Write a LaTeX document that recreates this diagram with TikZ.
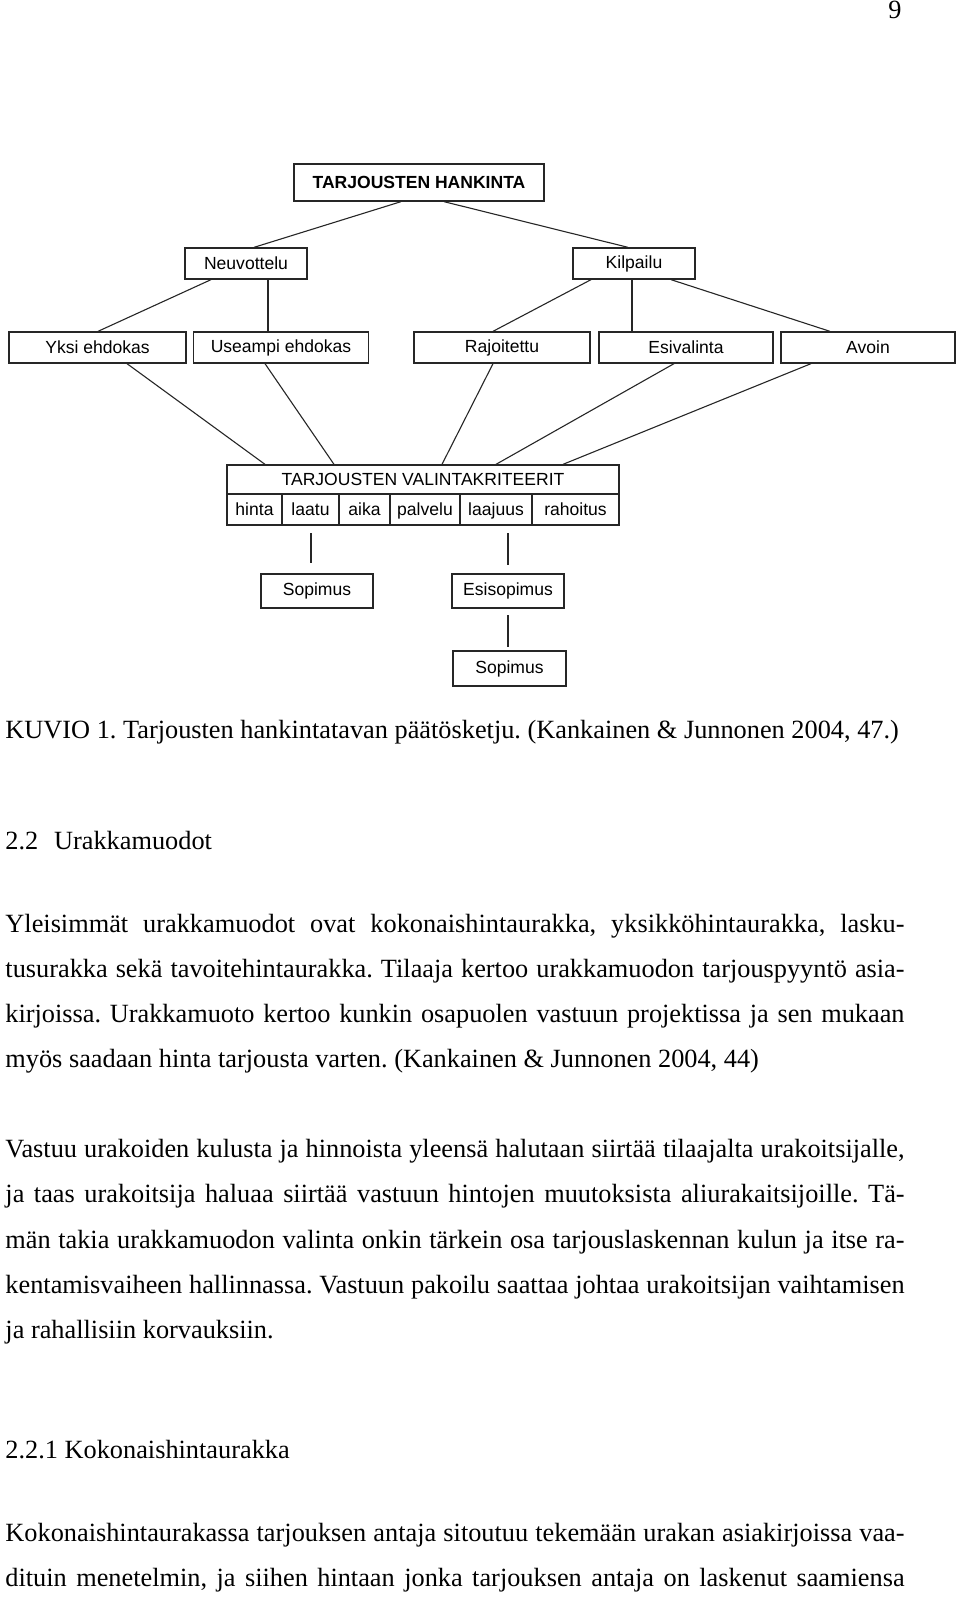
\documentclass[tikz,border=0pt]{standalone}
\usepackage{fontspec}
\setmainfont{Liberation Serif}
\newfontfamily\diafont{Liberation Sans}
\usepackage{tikz}
\usetikzlibrary{positioning}
\newcommand{\pxu}{0.456pt}

\begin{document}
\begin{tikzpicture}[x=0.456pt,y=-0.456pt,
  box/.style={draw=black!85,line width=0.6pt,rectangle,inner sep=0pt,
    font=\diafont\fontsize{8pt}{9pt}\selectfont},
  cell/.style={box,minimum height=31*\pxu,text height=1.6ex,text depth=0.4ex},
  conn/.style={draw=black!85,line width=0.5pt},
  body/.style={anchor=base west,inner sep=0pt,font=\fontsize{12pt}{14pt}\selectfont\frenchspacing}]
\fill[white] (0,0) rectangle (960,1597);
\useasboundingbox (0,0) rectangle (960,1597);

% puu
\node[box,minimum width=250*\pxu,minimum height=37*\pxu,font=\diafont\bfseries\fontsize{8pt}{9pt}\selectfont] (top) at (419,182.5) {TARJOUSTEN HANKINTA};
\node[box,minimum width=122*\pxu,minimum height=31*\pxu] (neuv) at (246,263.5) {Neuvottelu};
\node[box,minimum width=122*\pxu,minimum height=31*\pxu] (kilp) at (634,263.5) {Kilpailu};
\node[box,minimum width=177*\pxu,minimum height=31*\pxu] (yksi) at (97.5,347.5) {Yksi ehdokas};
\node[box,minimum width=175*\pxu,minimum height=31*\pxu] (usea) at (281,347.5) {Useampi ehdokas};
\node[box,minimum width=176*\pxu,minimum height=31*\pxu] (rajo) at (502,347.5) {Rajoitettu};
\node[box,minimum width=174*\pxu,minimum height=31*\pxu] (esiv) at (686,347.5) {Esivalinta};
\node[box,minimum width=174*\pxu,minimum height=31*\pxu] (avoin) at (868,347.5) {Avoin};

\draw[conn] (top.south -| 401,0) -- (neuv.north -| 254,0);
\draw[conn] (top.south -| 444,0) -- (kilp.north -| 628,0);
\draw[conn] (neuv.south -| 211,0) -- (yksi.north -| 98,0);
\draw[conn] (neuv.south -| 268,0) -- (usea.north -| 268,0);
\draw[conn] (kilp.south -| 591,0) -- (rajo.north -| 493,0);
\draw[conn] (kilp.south -| 632,0) -- (esiv.north -| 632,0);
\draw[conn] (kilp.south -| 671,0) -- (avoin.north -| 830,0);

% valintakriteerit
\node[box,minimum width=392*\pxu,minimum height=29*\pxu] (krit) at (423,479.5) {TARJOUSTEN VALINTAKRITEERIT};
\node[cell,minimum width=55*\pxu] (hinta) at (254.5,509.5) {hinta};
\node[cell,minimum width=57*\pxu] (laatu) at (310.5,509.5) {laatu};
\node[cell,minimum width=51*\pxu] (aika) at (364.5,509.5) {aika};
\node[cell,minimum width=70*\pxu] (palvelu) at (425,509.5) {palvelu};
\node[cell,minimum width=72*\pxu] (laajuus) at (496,509.5) {laajuus};
\node[cell,minimum width=87*\pxu] (rahoitus) at (575.5,509.5) {rahoitus};

\draw[conn] (yksi.south -| 127,0) -- (krit.north -| 265,0);
\draw[conn] (usea.south -| 265,0) -- (krit.north -| 334,0);
\draw[conn] (rajo.south -| 493,0) -- (krit.north -| 442,0);
\draw[conn] (esiv.south -| 674,0) -- (krit.north -| 496,0);
\draw[conn] (avoin.south -| 811,0) -- (krit.north -| 563,0);

% sopimukset
\node[box,minimum width=112*\pxu,minimum height=34*\pxu] (sop1) at (317,591) {Sopimus};
\node[box,minimum width=112*\pxu,minimum height=34*\pxu] (esis) at (508,591) {Esisopimus};
\node[box,minimum width=113*\pxu,minimum height=35*\pxu] (sop2) at (509.5,668.5) {Sopimus};

\coordinate (a1) at (311,533);
\coordinate (a2) at (311,563);
\coordinate (b1) at (508,533);
\coordinate (b2) at (508,565);
\coordinate (c1) at (508,615);
\coordinate (c2) at (508,647);
\draw[conn] (a1) -- (a2);
\draw[conn] (b1) -- (b2);
\draw[conn] (c1) -- (c2);

% teksti
\node[anchor=base east,inner sep=0pt,font=\fontsize{12pt}{14pt}\selectfont] (sivu) at (902,19) {9};
\node[body] (kuvio) at (5,738) {KUVIO 1. Tarjousten hankintatavan päätösketju. (Kankainen \& Junnonen 2004, 47.)};
\node[body] (otsikko1) at (5,849) {2.2\hspace{0.6em}Urakkamuodot};

\node[body] (p1a) at (5,932) {\makebox[410pt][s]{Yleisimmät urakkamuodot ovat kokonaishintaurakka, yksikköhintaurakka, lasku-}};
\node[body] (p1b) at (5,977) {\makebox[410pt][s]{tusurakka sekä tavoitehintaurakka. Tilaaja kertoo urakkamuodon tarjouspyyntö asia-}};
\node[body] (p1c) at (5,1022) {\makebox[410pt][s]{kirjoissa. Urakkamuoto kertoo kunkin osapuolen vastuun projektissa ja sen mukaan}};
\node[body] (p1d) at (5,1067) {myös saadaan hinta tarjousta varten. (Kankainen \& Junnonen 2004, 44)};

\node[body] (p2a) at (5,1157) {\makebox[410pt][s]{Vastuu urakoiden kulusta ja hinnoista yleensä halutaan siirtää tilaajalta urakoitsijalle,}};
\node[body] (p2b) at (5,1202) {\makebox[410pt][s]{ja taas urakoitsija haluaa siirtää vastuun hintojen muutoksista aliurakaitsijoille. Tä-}};
\node[body] (p2c) at (5,1248) {\makebox[410pt][s]{män takia urakkamuodon valinta onkin tärkein osa tarjouslaskennan kulun ja itse ra-}};
\node[body] (p2d) at (5,1293) {\makebox[410pt][s]{kentamisvaiheen hallinnassa. Vastuun pakoilu saattaa johtaa urakoitsijan vaihtamisen}};
\node[body] (p2e) at (5,1338) {ja rahallisiin korvauksiin.};

\node[body] (otsikko2) at (5,1458) {2.2.1 Kokonaishintaurakka};
\node[body] (p3a) at (5,1541) {\makebox[410pt][s]{Kokonaishintaurakassa tarjouksen antaja sitoutuu tekemään urakan asiakirjoissa vaa-}};
\node[body] (p3b) at (5,1586) {\makebox[410pt][s]{dituin menetelmin, ja siihen hintaan jonka tarjouksen antaja on laskenut saamiensa}};
\end{tikzpicture}
\end{document}
